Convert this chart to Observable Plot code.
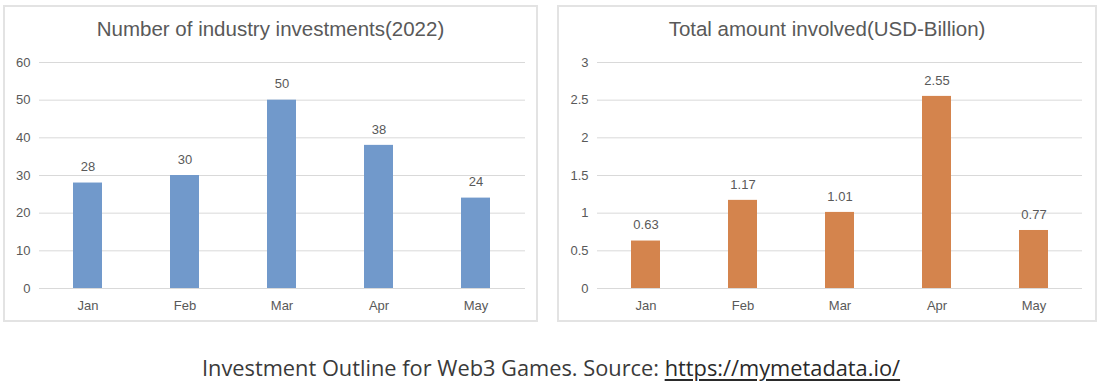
<!DOCTYPE html>
<html>
<head>
<meta charset="utf-8">
<script src="https://cdn.jsdelivr.net/npm/d3@7"></script>
<script src="https://cdn.jsdelivr.net/npm/@observablehq/plot@0.6"></script>
<style>
  html, body { margin: 0; padding: 0; background: #ffffff; }
  body { width: 1102px; height: 388px; position: relative; overflow: hidden; }
  .panel { position: absolute; box-sizing: border-box; border: 2px solid #e3e3e3; background: #fff; }
  .title { position: absolute; font-family: "Liberation Sans", Arial, sans-serif; font-size: 20.5px; color: #595959; text-align: center; line-height: 24px; white-space: nowrap; }
  .chart { position: absolute; }
  .caption { position: absolute; left: 0; width: 1102px; text-align: center; font-family: "Open Sans", Lato, sans-serif; font-size: 21.8px; line-height: 26px; color: #3a3a3a; white-space: nowrap; }
  .caption a { color: #2a2a2a; text-decoration: underline; text-underline-offset: 3px; }
</style>
</head>
<body>
<div class="panel" style="left:3px; top:5px; width:535px; height:317px;"></div>
<div class="panel" style="left:557px; top:5px; width:540px; height:317px;"></div>
<div class="title" id="t1" style="left:3px; width:535px; top:17px;"></div>
<div class="title" id="t2" style="left:557px; width:540px; top:17px;"></div>
<div class="chart" id="c1" style="left:4px; top:50px;"></div>
<div class="chart" id="c2" style="left:558px; top:50px;"></div>
<div class="caption" style="top:355px;">Investment Outline for Web3 Games. Source: <a href="https://mymetadata.io/">https://mymetadata.io/</a></div>
<script>
// ---- data ----
const months = ["Jan", "Feb", "Mar", "Apr", "May"];
const investmentCounts = [28, 30, 50, 38, 24];
const amountsUSDBillion = [0.63, 1.17, 1.01, 2.55, 0.77];
const countTicks = [0, 10, 20, 30, 40, 50, 60];
const amountTicks = [0, 0.5, 1, 1.5, 2, 2.5, 3];
const countLabels = ["28", "30", "50", "38", "24"];
const amountLabels = ["0.63", "1.17", "1.01", "2.55", "0.77"];
const titles = ["Number of industry investments(2022)", "Total amount involved(USD-Billion)"];

document.getElementById("t1").textContent = titles[0];
document.getElementById("t2").textContent = titles[1];

function makeChart({values, labels, ticks, domain, fill, width, marginLeft, marginRight, tickFormat}) {
  const data = months.map((m, i) => ({month: m, value: values[i], label: labels[i]}));
  return Plot.plot({
    width,
    height: 268,
    marginTop: 12,
    marginBottom: 30,
    marginLeft,
    marginRight,
    style: {fontFamily: '"Liberation Sans", Arial, sans-serif', fontSize: "13px", color: "#595959", background: "transparent", overflow: "visible"},
    x: {domain: months, paddingInner: 0.7, paddingOuter: 0.35, label: null},
    y: {domain, label: null},
    marks: [
      Plot.gridY(ticks, {stroke: "#d9d9d9", strokeOpacity: 1, strokeWidth: 1}),
      Plot.axisY(ticks, {tickSize: 0, tickPadding: 9, label: null, tickFormat, fill: "#595959"}),
      Plot.axisX({tickSize: 0, tickPadding: 12, label: null, fill: "#595959"}),
      Plot.barY(data, {x: "month", y: "value", fill}),
      Plot.text(data, {x: "month", y: "value", text: "label", dy: -16, lineAnchor: "middle", fill: "#595959", fontSize: 13})
    ]
  });
}

document.getElementById("c1").append(makeChart({
  values: investmentCounts, labels: countLabels, ticks: countTicks, domain: [0, 60],
  fill: "#7199cb", width: 533, marginLeft: 35, marginRight: 12, tickFormat: d => String(d)
}));
document.getElementById("c2").append(makeChart({
  values: amountsUSDBillion, labels: amountLabels, ticks: amountTicks, domain: [0, 3],
  fill: "#d4844d", width: 538, marginLeft: 39, marginRight: 14, tickFormat: d => String(d)
}));
</script>
</body>
</html>
